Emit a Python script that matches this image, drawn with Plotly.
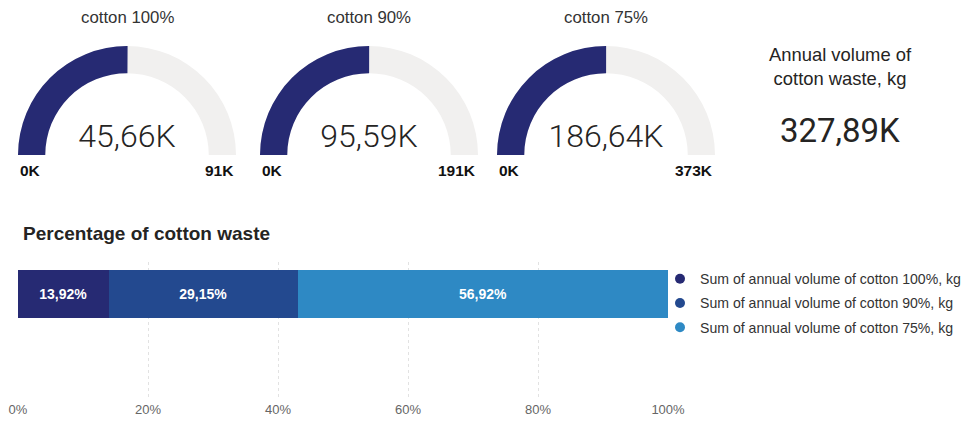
import plotly.graph_objects as go

# ---------------- data ----------------
gauge_titles = ["cotton 100%", "cotton 90%", "cotton 75%"]
volumes_k = [45.657, 95.59, 186.64]          # annual volume, thousands of kg
gauge_max_k = [91, 191, 373]                 # gauge maximum, thousands of kg
series_names = [
    "Sum of annual volume of cotton 100%, kg",
    "Sum of annual volume of cotton 90%, kg",
    "Sum of annual volume of cotton 75%, kg",
]
x_tick_vals = [0, 20, 40, 60, 80, 100]
x_tick_text = ["0%", "20%", "40%", "60%", "80%", "100%"]
total_title = "Annual volume of<br>cotton waste, kg"
bar_title = "Percentage of cotton waste"

# ---------------- styles ----------------
W, H = 968, 423
NAVY = "#262A73"
GAUGE_BG = "#F1F0EF"
bar_colors = ["#262A73", "#23498F", "#2E89C4"]
TXT = "#252423"


def px(x):
    return x / W


def py(y):
    return 1 - y / H


gauge_boxes = [(18, 236), (260, 478), (497, 715)]

fig = go.Figure()

for title, v, m, (l, r) in zip(gauge_titles, volumes_k, gauge_max_k, gauge_boxes):
    fig.add_trace(go.Indicator(
        mode="gauge+number",
        value=v,
        number=dict(suffix="K", valueformat=".2f",
                    font=dict(family="Roboto", size=32, color=TXT, weight=300)),
        gauge=dict(
            shape="angular",
            axis=dict(range=[0, m], visible=False),
            bar=dict(color=NAVY, thickness=1),
            bgcolor=GAUGE_BG,
            borderwidth=0,
        ),
        domain=dict(x=[px(l), px(r)], y=[py(155), py(46)]),
    ))
    cx = (l + r) / 2
    fig.add_annotation(x=px(cx), y=py(18), xref="paper", yref="paper", text=title,
                       showarrow=False, xanchor="center", yanchor="middle",
                       font=dict(family="Arial", size=16.8, color="#333333"))
    fig.add_annotation(x=px(l), y=py(170), xref="paper", yref="paper", text="0K",
                       showarrow=False, xanchor="left", yanchor="middle",
                       font=dict(family="Arial", size=15.5, color="#111111", weight="bold"))
    fig.add_annotation(x=px(r), y=py(170), xref="paper", yref="paper", text=f"{m}K",
                       showarrow=False, xanchor="right", yanchor="middle",
                       font=dict(family="Arial", size=15.5, color="#111111", weight="bold"))

# total card
total_k = sum(volumes_k)
fig.add_trace(go.Indicator(
    mode="number",
    value=total_k,
    number=dict(suffix="K", valueformat=".2f",
                font=dict(family="Roboto", size=33, color=TXT)),
    domain=dict(x=[px(760), px(920)], y=[py(150), py(110)]),
))
fig.add_annotation(x=px(840), y=py(66), xref="paper", yref="paper", text=total_title,
                   showarrow=False, xanchor="center", yanchor="middle",
                   font=dict(family="Arial", size=18.4, color=TXT))

# stacked 100% bar
pcts = [v / total_k * 100 for v in volumes_k]
for name, p, c in zip(series_names, pcts, bar_colors):
    fig.add_trace(go.Bar(
        x=[p], y=[0], orientation="h", width=1,
        marker=dict(color=c, line=dict(width=0)),
        texttemplate="%{x:.2f}%", textposition="inside", insidetextanchor="middle",
        textfont=dict(family="Arial", size=14, color="white", weight="bold"),
        showlegend=False, hoverinfo="skip", name=name,
    ))
    fig.add_trace(go.Scatter(
        x=[None], y=[None], mode="markers", name=name, legendgroup=name,
        marker=dict(color=c, size=10, symbol="circle"),
    ))

fig.add_annotation(x=px(21), y=py(233), xref="paper", yref="paper", text=bar_title,
                   showarrow=False, xanchor="left", yanchor="middle",
                   font=dict(family="Arial", size=19, color=TXT, weight="bold"))

fig.update_layout(
    width=W, height=H,
    margin=dict(l=0, r=0, t=0, b=0, autoexpand=False),
    paper_bgcolor="white", plot_bgcolor="white",
    separators=",.",
    barmode="stack",
    xaxis=dict(domain=[px(18), px(668)], range=[0, 100], tickmode="array",
               tickvals=x_tick_vals, ticktext=x_tick_text, automargin=False,
               showgrid=True, gridcolor="#E2E2E2", griddash="dot",
               zeroline=False, showline=False, ticks="",
               tickfont=dict(family="Arial", size=13, color="#666666")),
    yaxis=dict(domain=[py(400), py(262)], range=[-2.22, 0.67], visible=False),
    legend=dict(x=px(660), y=py(263), xanchor="left", yanchor="top",
                font=dict(family="Arial", size=14.1, color="#333333"),
                tracegroupgap=3, bgcolor="rgba(0,0,0,0)"),
    showlegend=True,
)

fig.write_html("out.html")
